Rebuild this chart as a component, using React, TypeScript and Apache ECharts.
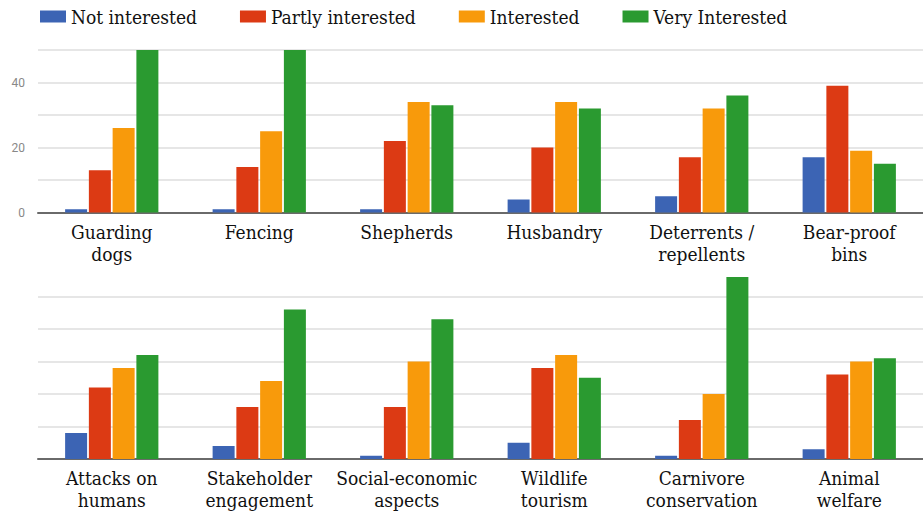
import React, { useEffect, useRef } from "react";
import * as echarts from "echarts";

const seriesNames = ["Not interested", "Partly interested", "Interested", "Very Interested"];
const seriesColors = ["#3c64b4", "#dc3a14", "#f89a0b", "#2a9a30"];

const topCategories = ["Guarding\ndogs", "Fencing", "Shepherds", "Husbandry", "Deterrents /\nrepellents", "Bear-proof\nbins"];
const bottomCategories = ["Attacks on\nhumans", "Stakeholder\nengagement", "Social-economic\naspects", "Wildlife\ntourism", "Carnivore\nconservation", "Animal\nwelfare"];

const topNotInterested = [1, 1, 1, 4, 5, 17];
const topPartly = [13, 14, 22, 20, 17, 39];
const topInterested = [26, 25, 34, 34, 32, 19];
const topVery = [50, 50, 33, 32, 36, 15];

const bottomNotInterested = [8, 4, 1, 5, 1, 3];
const bottomPartly = [22, 16, 16, 28, 12, 26];
const bottomInterested = [28, 24, 30, 32, 20, 30];
const bottomVery = [32, 46, 43, 25, 56, 31];

const yTickLabels = [0, 20, 40];

export default function App() {
  const ref = useRef<HTMLDivElement>(null);
  useEffect(() => {
    document.body.style.margin = "0";
    const chart = echarts.init(ref.current!, null, { renderer: "svg" });
    const serif = "'DejaVu Serif Condensed', 'DejaVu Serif'";
    const catAxis = (idx: number, data: string[]) => ({
      type: "category",
      gridIndex: idx,
      data,
      axisTick: { show: false },
      axisLine: { show: true, lineStyle: { color: "#6a6a6a", width: 2 } },
      axisLabel: {
        interval: 0,
        margin: 8,
        fontFamily: serif,
        fontSize: 19,
        lineHeight: 22,
        color: "#111",
      },
    });
    const topData = [topNotInterested, topPartly, topInterested, topVery];
    const bottomData = [bottomNotInterested, bottomPartly, bottomInterested, bottomVery];
    const mk = (gi: number, data: number[][]) =>
      data.map((d, i) => ({
        name: seriesNames[i],
        type: "bar",
        xAxisIndex: gi,
        yAxisIndex: gi,
        data: d,
        barWidth: 22,
        barGap: "8%",
        itemStyle: { color: seriesColors[i] },
      }));
    chart.setOption({
      animation: false,
      legend: {
        data: seriesNames,
        left: 40,
        top: 7,
        padding: 0,
        itemWidth: 26,
        itemHeight: 12,
        itemGap: 43,
        icon: "rect",
        textStyle: { fontFamily: serif, fontSize: 19, color: "#111" },
      },
      grid: [
        { left: 38, right: -12, top: 50, height: 162.5 },
        { left: 38, right: -12, top: 273.75, height: 185.25 },
      ],
      xAxis: [catAxis(0, topCategories), catAxis(1, bottomCategories)],
      yAxis: [
        {
          type: "value",
          gridIndex: 0,
          min: 0,
          max: 50,
          interval: 10,
          axisLine: { show: false },
          axisTick: { show: false },
          splitLine: { show: true, lineStyle: { color: "#e6e6e6", width: 2 } },
          axisLabel: {
            margin: 13,
            fontFamily: "Roboto",
            fontSize: 12,
            color: "#888",
            formatter: (v: number) => (yTickLabels.includes(v) ? String(v) : ""),
          },
        },
        {
          type: "value",
          gridIndex: 1,
          min: 0,
          max: 57,
          interval: 10,
          axisLine: { show: false },
          axisTick: { show: false },
          splitLine: { show: true, showMaxLine: false, lineStyle: { color: "#e6e6e6", width: 2 } },
          axisLabel: { show: false },
        },
      ],
      series: [...mk(0, topData), ...mk(1, bottomData)],
    });
    return () => chart.dispose();
  }, []);
  return <div ref={ref} style={{ width: 923, height: 513, overflow: "hidden" }} />;
}
